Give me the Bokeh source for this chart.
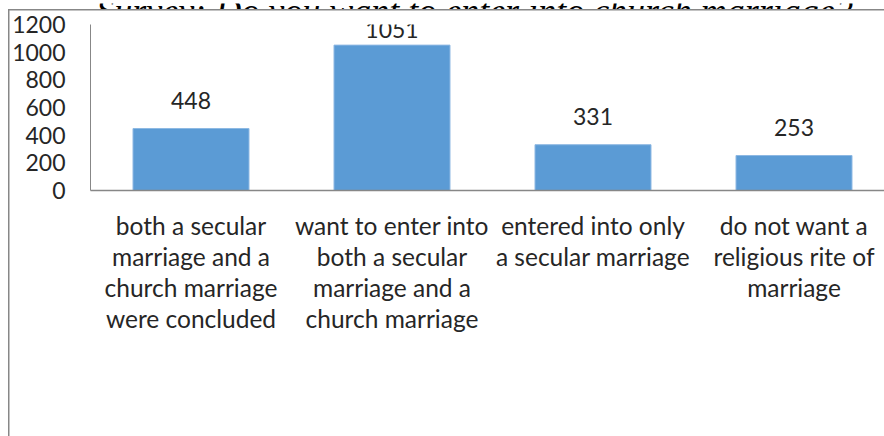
from bokeh.plotting import figure
from bokeh.models import Range1d, FixedTicker, Label, LabelSet, ColumnDataSource
from bokeh.layouts import column
from bokeh.embed import file_html
from bokeh.resources import INLINE
from bokeh.core.properties import value

# ---------------- data ----------------
title_text = "Survey: Do you want to enter into church marriage?"
categories = [
    "both a secular\nmarriage and a\nchurch marriage\nwere concluded",
    "want to enter into\nboth a secular\nmarriage and a\nchurch marriage",
    "entered into only\na secular marriage",
    "do not want a\nreligious rite of\nmarriage",
]
counts = [448, 1051, 331, 253]
y_ticks = [0, 200, 400, 600, 800, 1000, 1200]

# ---------------- layout ----------------
W = 884
TOP = 9                          # height of the strip holding the (cut) title
H = 436 - TOP
FONT = "Lato"
FS_NUM = "23px"
FS_CAT = "24.5px"
TXT = "#262626"
AXIS = "#878787"

# strip with the title: only its lower part is visible, as in the reference
t = figure(width=W, height=TOP, output_backend="svg", toolbar_location=None,
           min_border=0, x_axis_type=None, y_axis_type=None)
t.outline_line_color = None
t.grid.visible = False
t.border_fill_color = "white"
t.background_fill_color = "white"
t.add_layout(Label(x=474, y=7, x_units="canvas", y_units="canvas",
                   text=title_text, text_align="center", text_baseline="alphabetic",
                   text_font="Liberation Serif", text_font_style="italic",
                   text_font_size="36px", text_color="#000000"))

left_b, top_b, bottom_b = 90, 24 - TOP, 246
frame_w = W - left_b
frame_h = H - top_b - bottom_b
cat_step = 201.0                 # px per category
xs = [i + 1 for i in range(len(categories))]

border_css = (f"linear-gradient({AXIS},{AXIS}) 8px 0px / 100% 1.5px no-repeat, "
              f"linear-gradient({AXIS},{AXIS}) 8px 0px / 1.5px 100% no-repeat, #ffffff")

p = figure(width=W, height=H, output_backend="svg", toolbar_location=None,
           x_range=Range1d(0.5, 0.5 + frame_w / cat_step),
           y_range=Range1d(y_ticks[0], y_ticks[-1]),
           min_border_left=left_b, min_border_right=0,
           min_border_top=top_b, min_border_bottom=bottom_b,
           styles={"background": border_css})
p.outline_line_color = None
p.background_fill_color = None
p.border_fill_color = None
p.xgrid.visible = False
p.ygrid.visible = False

p.vbar(x=xs, top=counts, width=0.577, bottom=0, fill_color="#5B9BD5",
       line_color="#8DB8E3", line_width=1)

# value labels (clamped so they stay near the plot top like Excel does)
ppu = frame_h / (y_ticks[-1] - y_ticks[0])
lab_y = [min(c + 19.5 / ppu, y_ticks[-1] - 13.5 / ppu) for c in counts]
src = ColumnDataSource(dict(x=xs, y=lab_y, t=[str(c) for c in counts]))
p.add_layout(LabelSet(x="x", y="y", text="t", source=src, text_align="center",
                      text_baseline="alphabetic", text_font=value(FONT),
                      text_font_size=FS_NUM, text_color=TXT))

# axes
p.yaxis.ticker = FixedTicker(ticks=y_ticks)
p.yaxis.axis_line_color = AXIS
p.yaxis.major_tick_line_color = None
p.yaxis.minor_tick_line_color = None
p.yaxis.major_tick_out = 0
p.yaxis.major_tick_in = 0
p.yaxis.major_label_standoff = 25
p.yaxis.major_label_text_font = FONT
p.yaxis.major_label_text_font_size = FS_NUM
p.yaxis.major_label_text_color = TXT

p.xaxis.ticker = FixedTicker(ticks=xs)
p.xaxis.major_label_overrides = {x: c for x, c in zip(xs, categories)}
p.xaxis.axis_line_color = AXIS
p.xaxis.axis_line_width = 1.5
p.xaxis.major_tick_line_color = None
p.xaxis.minor_tick_line_color = None
p.xaxis.major_tick_out = 0
p.xaxis.major_tick_in = 0
p.xaxis.major_label_standoff = 20
p.xaxis.major_label_text_font = FONT
p.xaxis.major_label_text_font_size = FS_CAT
p.xaxis.major_label_text_color = TXT
p.xaxis.major_label_text_line_height = 1.07

layout = column(t, p, spacing=0)
open("out.html", "w").write(file_html(layout, INLINE))
